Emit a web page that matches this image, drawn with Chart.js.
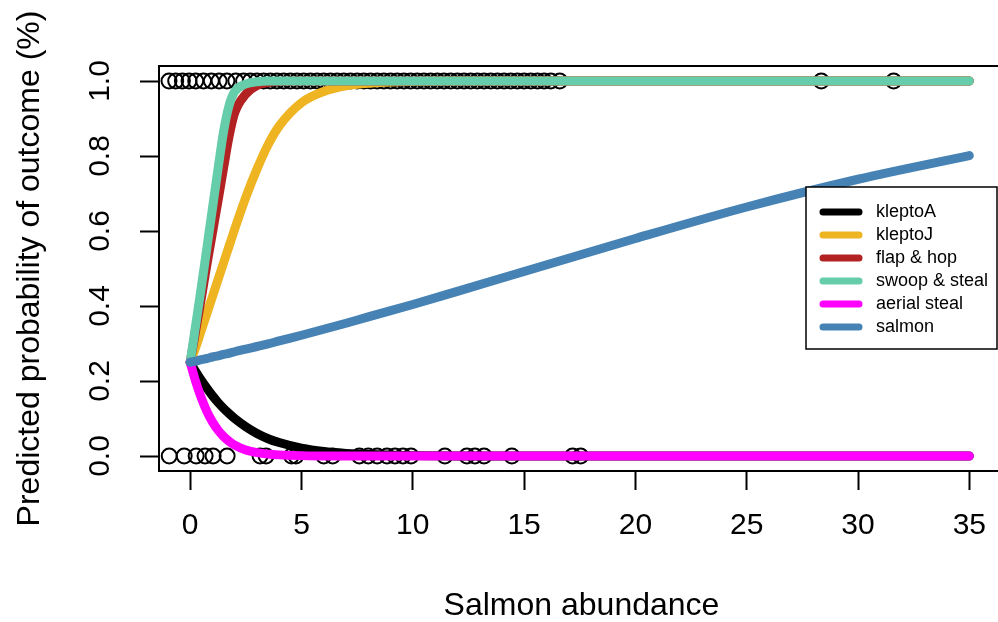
<!DOCTYPE html>
<html>
<head>
<meta charset="utf-8">
<script src="https://cdn.jsdelivr.net/npm/chart.js@4/dist/chart.umd.min.js"></script>
<style>
  html, body { margin: 0; padding: 0; background: #fff; overflow: hidden; }
  canvas { display: block; }
</style>
</head>
<body>
<canvas id="c" width="1010" height="622" style="width:1010px;height:622px"></canvas>
<script>
// Observed outcomes (0 / 1) against salmon abundance
const obsAbundance = [
  -0.95, -0.65, -0.35, -0.05, 0.25, 0.6, 0.95, 1.3, 1.65, 2.05, 2.4, 2.7, 3.0, 3.3, 3.6, 3.9,
  4.2, 4.5, 4.8, 5.1, 5.4, 5.7, 6.0, 6.3, 6.6, 6.9, 7.2, 7.5, 7.8, 8.1, 8.4, 8.7, 9.0, 9.3,
  9.6, 9.9, 10.2, 10.5, 10.8, 11.1, 11.4, 11.7, 12.0, 12.3, 12.6, 12.9, 13.2, 13.5, 13.8,
  14.1, 14.4, 14.7, 15.0, 15.3, 15.6, 15.9, 16.2, 16.6,
  28.35, 31.6,
  -0.94, -0.27, 0.27, 0.67, 1.03, 1.66, 3.14, 3.41, 4.55, 4.75, 6.0, 6.4, 7.6, 8.0, 8.4,
  8.84, 9.2, 9.56, 9.92, 11.44, 12.43, 12.79, 13.2, 14.45, 17.18, 17.54
];
const obsOutcome = [
  1, 1, 1, 1, 1, 1, 1, 1, 1, 1, 1, 1, 1, 1, 1, 1,
  1, 1, 1, 1, 1, 1, 1, 1, 1, 1, 1, 1, 1, 1, 1, 1, 1, 1,
  1, 1, 1, 1, 1, 1, 1, 1, 1, 1, 1, 1, 1, 1, 1,
  1, 1, 1, 1, 1, 1, 1, 1, 1,
  1, 1,
  0, 0, 0, 0, 0, 0, 0, 0, 0, 0, 0, 0, 0, 0, 0,
  0, 0, 0, 0, 0, 0, 0, 0, 0, 0, 0
];

// Predicted probability curves
const curveAbundance = [0, 0.25, 0.5, 0.75, 1, 1.25, 1.5, 1.75, 2, 2.5, 3, 3.5, 4, 5, 6, 7, 8, 10, 12, 15, 20, 25, 30, 35];
const kleptoA      = [0.25, 0.225, 0.202, 0.181, 0.161, 0.143, 0.127, 0.113, 0.100, 0.078, 0.060, 0.046, 0.036, 0.021, 0.012, 0.007, 0.004, 0.001, 0.000, 0, 0, 0, 0, 0];
const kleptoJ      = [0.25, 0.290, 0.335, 0.380, 0.425, 0.470, 0.515, 0.560, 0.605, 0.690, 0.765, 0.830, 0.880, 0.942, 0.972, 0.987, 0.994, 0.999, 1, 1, 1, 1, 1, 1];
const flapHop      = [0.25, 0.335, 0.420, 0.510, 0.595, 0.680, 0.768, 0.853, 0.915, 0.965, 0.988, 0.996, 0.999, 1, 1, 1, 1, 1, 1, 1, 1, 1, 1, 1];
const swoopSteal   = [0.25, 0.350, 0.450, 0.555, 0.660, 0.765, 0.865, 0.935, 0.972, 0.992, 0.998, 1, 1, 1, 1, 1, 1, 1, 1, 1, 1, 1, 1, 1];
const aerialSteal  = [0.25, 0.198, 0.155, 0.119, 0.091, 0.069, 0.052, 0.039, 0.029, 0.016, 0.009, 0.005, 0.003, 0.001, 0, 0, 0, 0, 0, 0, 0, 0, 0, 0];
const salmon       = [0.25, 0.253, 0.257, 0.260, 0.264, 0.267, 0.271, 0.274, 0.278, 0.285, 0.292, 0.299, 0.307, 0.322, 0.338, 0.354, 0.371, 0.404, 0.439, 0.492, 0.580, 0.664, 0.738, 0.801];

const seriesNames  = ['kleptoA', 'kleptoJ', 'flap & hop', 'swoop & steal', 'aerial steal', 'salmon'];
const seriesColors = ['#000000', '#EEB422', '#B22222', '#66CDAA', '#FF00FF', '#4682B4'];
const seriesValues = [kleptoA, kleptoJ, flapHop, swoopSteal, aerialSteal, salmon];

const xTicks = [0, 5, 10, 15, 20, 25, 30, 35];
const yTicks = [0, 0.2, 0.4, 0.6, 0.8, 1.0];
const xTitle = 'Salmon abundance';
const yTitle = 'Predicted probability of outcome (%)';

const FONT = '"Liberation Sans", Arial, Helvetica, sans-serif';

const datasets = [{
  label: 'observed',
  data: obsAbundance.map((x, i) => ({ x: x, y: obsOutcome[i] })),
  showLine: false,
  pointStyle: 'circle',
  pointRadius: 7.5,
  pointHoverRadius: 7.5,
  pointBorderWidth: 2,
  pointBorderColor: '#000',
  pointBackgroundColor: 'rgba(0,0,0,0)',
  order: 20
}];
seriesValues.forEach((vals, k) => {
  datasets.push({
    label: seriesNames[k],
    data: curveAbundance.map((x, i) => ({ x: x, y: vals[i] })),
    showLine: true,
    borderColor: seriesColors[k],
    backgroundColor: seriesColors[k],
    borderWidth: 9,
    borderCapStyle: 'round',
    borderJoinStyle: 'round',
    cubicInterpolationMode: 'monotone',
    pointRadius: 0,
    pointHoverRadius: 0,
    order: 10 - k
  });
});

// Box, tick labels, axis titles and legend in base-graphics style
const decorations = {
  id: 'decorations',
  afterDraw(chart) {
    const ctx = chart.ctx;
    const a = chart.chartArea;
    const xs = chart.scales.x, ys = chart.scales.y;
    ctx.save();
    ctx.strokeStyle = '#000';
    ctx.lineWidth = 2;
    ctx.strokeRect(a.left, a.top, a.right - a.left, a.bottom - a.top);

    ctx.fillStyle = '#000';
    ctx.font = '30px ' + FONT;
    ctx.textAlign = 'center';
    ctx.textBaseline = 'middle';
    xTicks.forEach(v => ctx.fillText(String(v), xs.getPixelForValue(v), 526));
    yTicks.forEach(v => {
      ctx.save();
      ctx.translate(101, ys.getPixelForValue(v));
      ctx.rotate(-Math.PI / 2);
      ctx.fillText(v.toFixed(1), 0, 0);
      ctx.restore();
    });

    ctx.font = '32px ' + FONT;
    ctx.fillText(xTitle, (a.left + 1004) / 2, 606);
    ctx.save();
    ctx.translate(30, (a.top + a.bottom) / 2);
    ctx.rotate(-Math.PI / 2);
    ctx.fillText(yTitle, 0, 0);
    ctx.restore();

    // legend
    const lx = 806, ly = 187, lw = 191, lh = 162;
    ctx.fillStyle = '#fff';
    ctx.fillRect(lx, ly, lw, lh);
    ctx.lineWidth = 1.5;
    ctx.strokeStyle = '#000';
    ctx.strokeRect(lx, ly, lw, lh);
    ctx.font = '18px ' + FONT;
    ctx.textAlign = 'left';
    ctx.lineCap = 'round';
    seriesNames.forEach((name, k) => {
      const y = 212 + k * 23;
      ctx.strokeStyle = seriesColors[k];
      ctx.lineWidth = 7;
      ctx.beginPath();
      ctx.moveTo(823, y);
      ctx.lineTo(859, y);
      ctx.stroke();
      ctx.fillStyle = '#000';
      ctx.fillText(name, 876, y);
    });
    ctx.restore();
  }
};

new Chart(document.getElementById('c'), {
  type: 'scatter',
  data: { datasets: datasets },
  options: {
    responsive: false,
    animation: false,
    devicePixelRatio: 1,
    layout: { padding: { left: 0, top: 66, right: 6, bottom: 0 } },
    plugins: { legend: { display: false }, tooltip: { enabled: false } },
    events: [],
    scales: {
      x: {
        type: 'linear',
        min: -1.4,
        max: 36.4,
        afterBuildTicks: s => { s.ticks = xTicks.map(v => ({ value: v })); },
        afterFit: s => { s.height = 151; },
        ticks: { display: false },
        border: { display: false },
        grid: { drawOnChartArea: false, drawTicks: true, tickLength: 19, tickWidth: 2, tickColor: '#000' }
      },
      y: {
        type: 'linear',
        min: -0.04,
        max: 1.04,
        afterBuildTicks: s => { s.ticks = yTicks.map(v => ({ value: v })); },
        afterFit: s => { s.width = 159; },
        ticks: { display: false },
        border: { display: false },
        grid: { drawOnChartArea: false, drawTicks: true, tickLength: 19, tickWidth: 2, tickColor: '#000' }
      }
    }
  },
  plugins: [decorations]
});
</script>
</body>
</html>
